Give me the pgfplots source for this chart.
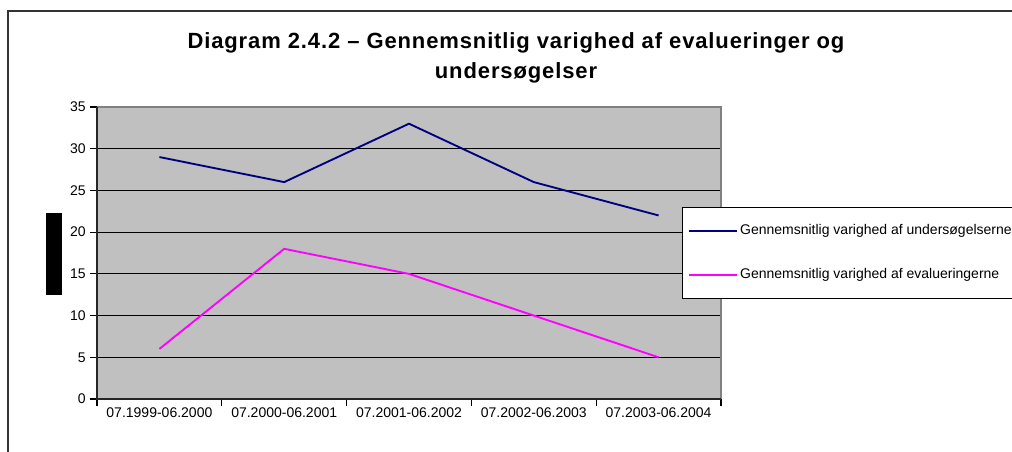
\documentclass[border=0pt]{standalone}
\usepackage{pgfplots}
\pgfplotsset{compat=1.18}
\usepackage{fontspec}
\setmainfont{Liberation Sans}
\newfontfamily\titlefont[LetterSpace=4]{Liberation Sans}
\definecolor{plotgray}{HTML}{C0C0C0}
\definecolor{bordergray}{HTML}{808080}
\definecolor{navyline}{HTML}{000080}
\definecolor{magline}{HTML}{FF00FF}
\begin{document}
\begin{tikzpicture}[x=0.75pt,y=0.75pt]
\useasboundingbox (0,0) rectangle (1012,451);
\clip (0,0) rectangle (1012,451);
% outer frame
\draw[line width=1.2pt, black!80] (8,-20) rectangle (1100,440);
% title
\node[font=\titlefont\bfseries\fontsize{16.5}{19}\selectfont, align=center] at (516,393) {Diagram 2.4.2 – Gennemsnitlig varighed af evalueringer og\\[4pt]undersøgelser};
\begin{axis}[
  at={(72.75pt,39pt)}, anchor=south west,
  scale only axis, width=468pt, height=219pt,
  xmin=-0.5, xmax=4.5, ymin=0, ymax=35,
  xtick={-0.5,0.5,1.5,2.5,3.5,4.5}, xticklabels={},
  extra x ticks={0,1,2,3,4},
  extra x tick labels={07.1999-06.2000,07.2000-06.2001,07.2001-06.2002,07.2002-06.2003,07.2003-06.2004},
  extra x tick style={major tick length=0pt, grid=none},
  ytick={0,5,...,35},
  ymajorgrids, grid style={black, line width=0.8pt},
  tick style={black, line width=0.8pt},
  tick align=outside, major tick length=5pt,
  xtick pos=bottom, ytick pos=left,
  axis background/.style={fill=plotgray},
  axis line style={draw=none},
  ticklabel style={font=\fontsize{10.5}{12}\selectfont},
  xticklabel style={yshift=-3pt},
  /pgf/number format/assume math mode=true,
  legend style={at={(0.9375,0.6575)}, anchor=north west, draw=black, fill=white,
    font=\fontsize{10.5}{12}\selectfont, inner xsep=4pt, inner ysep=11pt, row sep=20pt,
    legend cell align=left},
  legend image code/.code={\draw[#1] (0pt,0pt) -- (36pt,0pt);},
  clip=false,
]
\draw[bordergray, line width=1.5pt] (axis cs:-0.5,35) -- (axis cs:4.5,35) -- (axis cs:4.5,0);
\draw[black!85, line width=0.8pt] (axis cs:-0.5,35) -- (axis cs:-0.5,0) -- (axis cs:4.5,0);
\addplot[navyline, line width=1.4pt] coordinates {(0,29) (1,26) (2,33) (3,26) (4,22)};
\addlegendentry{Gennemsnitlig varighed af undersøgelserne}
\addplot[magline, line width=1.4pt] coordinates {(0,6) (1,18) (2,15) (3,10) (4,5)};
\addlegendentry{Gennemsnitlig varighed af evalueringerne}
\end{axis}
\fill[black] (46,156) rectangle (62,238);
\end{tikzpicture}
\end{document}
